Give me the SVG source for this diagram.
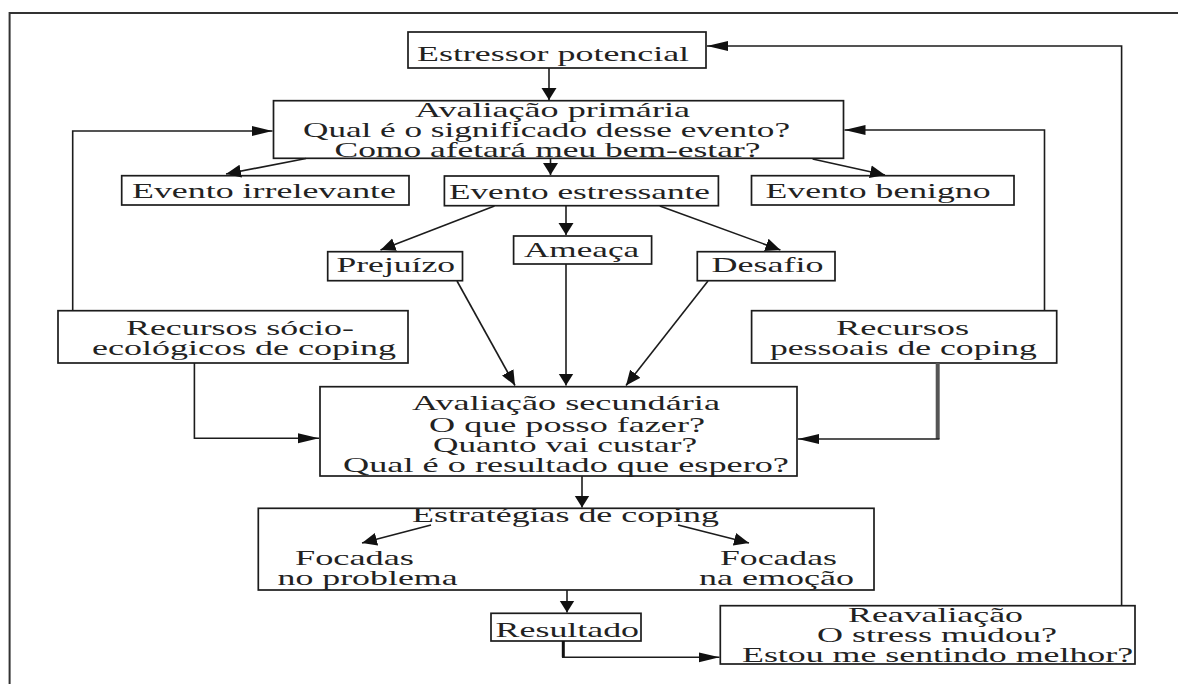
<svg xmlns="http://www.w3.org/2000/svg" width="1178" height="684" viewBox="0 0 1178 684">
<style>
.box{fill:#fff;stroke:#1c1c1c;stroke-width:1.7}
.t{font-family:"Liberation Serif","Times New Roman",serif;font-size:21px;fill:#222}
.c{fill:none;stroke:#1c1c1c;stroke-width:1.6}
.fr{fill:none;stroke:#333;stroke-width:2}
</style>
<defs>
<marker id="av" markerUnits="userSpaceOnUse" orient="auto" markerWidth="13" markerHeight="16" refX="12" refY="8"><path d="M0,0.5 L12,8 L0,15.5 Z" fill="#111"/></marker>
<marker id="ah" markerUnits="userSpaceOnUse" orient="auto" markerWidth="22" markerHeight="12" refX="21" refY="6"><path d="M0,1 L21,6 L0,11 Z" fill="#111"/></marker>
<marker id="ad" markerUnits="userSpaceOnUse" orient="auto" markerWidth="16" markerHeight="14" refX="15" refY="7"><path d="M0,0.5 L15,7 L0,13.5 Z" fill="#111"/></marker>
</defs>
<rect width="1178" height="684" fill="#fff"/>
<g id="frame"><path class="fr" d="M9.6,684 V13 H1178"/></g>

<g id="estressor">
<rect class="box" x="408" y="32" width="298" height="36"/>
<text class="t" transform="translate(417 61) scale(1.71 1)" textLength="159.1" lengthAdjust="spacingAndGlyphs">Estressor potencial</text>
</g>
<g id="avaliacao-primaria">
<rect class="box" x="273.5" y="100.7" width="570" height="57.6"/>
<text class="t" transform="translate(415 116.7) scale(1.71 1)" textLength="160.8" lengthAdjust="spacingAndGlyphs">Avaliação primária</text>
<text class="t" transform="translate(303 137.3) scale(1.71 1)" textLength="284.8" lengthAdjust="spacingAndGlyphs">Qual é o significado desse evento?</text>
<text class="t" transform="translate(334.5 156.7) scale(1.71 1)" textLength="249.1" lengthAdjust="spacingAndGlyphs">Como afetará meu bem-estar?</text>
</g>
<g id="evento-irrelevante">
<rect class="box" x="121.7" y="175.7" width="287.3" height="29.3"/>
<text class="t" transform="translate(132 198.3) scale(1.71 1)" textLength="154.4" lengthAdjust="spacingAndGlyphs">Evento irrelevante</text>
</g>
<g id="evento-estressante">
<rect class="box" x="444.4" y="176" width="274" height="29.7"/>
<text class="t" transform="translate(449 199.3) scale(1.71 1)" textLength="152.6" lengthAdjust="spacingAndGlyphs">Evento estressante</text>
</g>
<g id="evento-benigno">
<rect class="box" x="751.5" y="175.7" width="262.5" height="29.3"/>
<text class="t" transform="translate(765.5 198.3) scale(1.71 1)" textLength="131.6" lengthAdjust="spacingAndGlyphs">Evento benigno</text>
</g>
<g id="prejuizo">
<rect class="box" x="327.7" y="251.7" width="134.8" height="29"/>
<text class="t" transform="translate(336.5 271.7) scale(1.71 1)" textLength="69.3" lengthAdjust="spacingAndGlyphs">Prejuízo</text>
</g>
<g id="ameaca">
<rect class="box" x="513.6" y="236" width="138" height="28"/>
<text class="t" transform="translate(524 256.7) scale(1.71 1)" textLength="67.3" lengthAdjust="spacingAndGlyphs">Ameaça</text>
</g>
<g id="desafio">
<rect class="box" x="697.3" y="251.7" width="137.7" height="29"/>
<text class="t" transform="translate(711.5 271.7) scale(1.71 1)" textLength="65.5" lengthAdjust="spacingAndGlyphs">Desafio</text>
</g>
<g id="recursos-socio">
<rect class="box" x="58" y="310.7" width="350" height="52.3"/>
<text class="t" transform="translate(126 335) scale(1.71 1)" textLength="133.3" lengthAdjust="spacingAndGlyphs">Recursos sócio-</text>
<text class="t" transform="translate(92 355) scale(1.71 1)" textLength="177.8" lengthAdjust="spacingAndGlyphs">ecológicos de coping</text>
</g>
<g id="recursos-pessoais">
<rect class="box" x="751.6" y="310.7" width="305.1" height="52.3"/>
<text class="t" transform="translate(836 335) scale(1.71 1)" textLength="77.8" lengthAdjust="spacingAndGlyphs">Recursos</text>
<text class="t" transform="translate(770 355) scale(1.71 1)" textLength="156.1" lengthAdjust="spacingAndGlyphs">pessoais de coping</text>
</g>
<g id="avaliacao-secundaria">
<rect class="box" x="320" y="386.7" width="477" height="89.3"/>
<text class="t" transform="translate(412 410) scale(1.71 1)" textLength="180.1" lengthAdjust="spacingAndGlyphs">Avaliação secundária</text>
<text class="t" transform="translate(429 431.7) scale(1.71 1)" textLength="161.4" lengthAdjust="spacingAndGlyphs">O que posso fazer?</text>
<text class="t" transform="translate(433 451.7) scale(1.71 1)" textLength="154.4" lengthAdjust="spacingAndGlyphs">Quanto vai custar?</text>
<text class="t" transform="translate(343 471.7) scale(1.71 1)" textLength="260.8" lengthAdjust="spacingAndGlyphs">Qual é o resultado que espero?</text>
</g>
<g id="estrategias">
<rect class="box" x="258.3" y="508.3" width="615.7" height="81.7"/>
<text class="t" transform="translate(412 521.7) scale(1.71 1)" textLength="179.5" lengthAdjust="spacingAndGlyphs">Estratégias de coping</text>
<text class="t" transform="translate(295 565) scale(1.71 1)" textLength="69.6" lengthAdjust="spacingAndGlyphs">Focadas</text>
<text class="t" transform="translate(277.5 585) scale(1.71 1)" textLength="105.3" lengthAdjust="spacingAndGlyphs">no problema</text>
<text class="t" transform="translate(720 565) scale(1.71 1)" textLength="68.4" lengthAdjust="spacingAndGlyphs">Focadas</text>
<text class="t" transform="translate(699 585) scale(1.71 1)" textLength="90.6" lengthAdjust="spacingAndGlyphs">na emoção</text>
</g>
<g id="resultado">
<rect class="box" x="491" y="613.3" width="150" height="27.7"/>
<text class="t" transform="translate(495.6 636.7) scale(1.71 1)" textLength="83.9" lengthAdjust="spacingAndGlyphs">Resultado</text>
</g>
<g id="reavaliacao">
<rect class="box" x="720.3" y="605.7" width="414.7" height="58.3"/>
<text class="t" transform="translate(848 621.7) scale(1.71 1)" textLength="102.3" lengthAdjust="spacingAndGlyphs">Reavaliação</text>
<text class="t" transform="translate(817 641.7) scale(1.71 1)" textLength="140.4" lengthAdjust="spacingAndGlyphs">O stress mudou?</text>
<text class="t" transform="translate(742 661.7) scale(1.71 1)" textLength="228.7" lengthAdjust="spacingAndGlyphs">Estou me sentindo melhor?</text>
</g>

<g id="connectors">
<path class="c" d="M549,68 V100" marker-end="url(#av)"/>
<path class="c" d="M306,158.5 L226,174" marker-end="url(#ad)"/>
<path class="c" d="M550.5,158.5 V175" marker-end="url(#av)"/>
<path class="c" d="M812.6,159 L885,175" marker-end="url(#ad)"/>
<path class="c" d="M494.5,206 L380.5,250" marker-end="url(#ad)"/>
<path class="c" d="M566,206 V235" marker-end="url(#av)"/>
<path class="c" d="M659.8,206 L780.4,250" marker-end="url(#ad)"/>
<path class="c" d="M457,281 L515,385.5" marker-end="url(#ad)"/>
<path class="c" d="M566,264 V385.5" marker-end="url(#av)"/>
<path class="c" d="M708,281 L626,385.5" marker-end="url(#ad)"/>
<path class="c" d="M72.7,310.7 V131 H272.5" marker-end="url(#ah)"/>
<path class="c" d="M1044.5,310.7 V130 H844.5" marker-end="url(#ah)"/>
<path class="c" d="M1121.6,605.7 V46 H707" marker-end="url(#ah)"/>
<path class="c" d="M194.4,363 V438.3 H319" marker-end="url(#ah)"/>
<path d="M937.7,363 V439" fill="none" stroke="#555" stroke-width="4"/>
<path class="c" d="M939.5,439 H798" marker-end="url(#ah)"/>
<path class="c" d="M582,476 V507.5" marker-end="url(#av)"/>
<path class="c" d="M431,525 L362,543" marker-end="url(#ad)"/>
<path class="c" d="M678,525 L749,543" marker-end="url(#ad)"/>
<path class="c" d="M567,590 V612.5" marker-end="url(#av)"/>
<path d="M563.3,641 V657.3" fill="none" stroke="#111" stroke-width="3"/>
<path class="c" d="M562,657.3 H719.5" stroke-width="2" marker-end="url(#ah)"/>
</g>
</svg>
